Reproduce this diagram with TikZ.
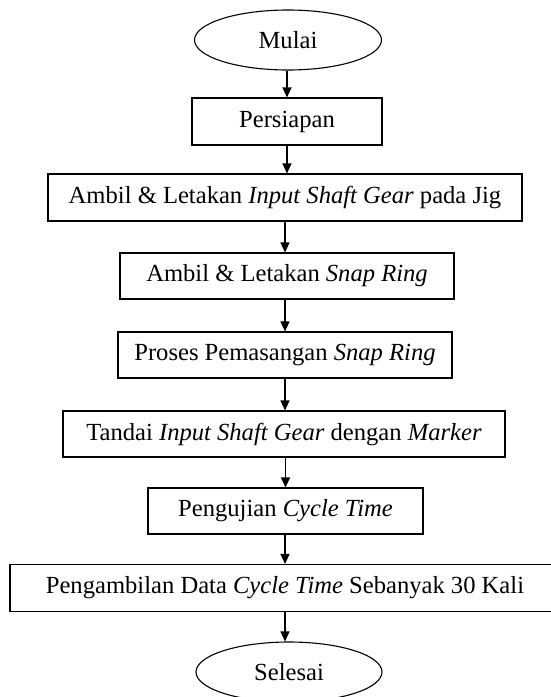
\documentclass[tikz,border=0pt]{standalone}
\usepackage{fontspec}
\setmainfont{Liberation Serif}
\usetikzlibrary{shapes.geometric,arrows.meta}
\begin{document}
\begin{tikzpicture}[x=1pt,y=-1pt,
  every node/.style={font=\fontsize{24.6}{29}\selectfont, inner sep=0pt},
  procbox/.style={draw, line width=1.1pt, rectangle},
  termnode/.style={draw, line width=1.1pt, ellipse},
  flowarrow/.style={line width=1.1pt, -{Triangle[length=10pt,width=9pt]}}]
\useasboundingbox (0,0) rectangle (551,697);
\node[termnode, minimum width=187pt, minimum height=60pt] (start) at (288,40) {Mulai};
\node[procbox, minimum width=190pt, minimum height=47pt] (p1) at (287,121.5) {Persiapan};
\node[procbox, minimum width=474pt, minimum height=47pt] (p2) at (285,197.5) {Ambil \& Letakan \textit{Input Shaft Gear} pada Jig};
\node[procbox, minimum width=334pt, minimum height=46pt] (p3) at (287,276) {Ambil \& Letakan \textit{Snap Ring}};
\node[procbox, minimum width=334pt, minimum height=46pt] (p4) at (285,355) {Proses Pemasangan \textit{Snap Ring}};
\node[procbox, minimum width=442pt, minimum height=46pt] (p5) at (284,434) {Tandai \textit{Input Shaft Gear} dengan \textit{Marker}};
\node[procbox, minimum width=275pt, minimum height=46pt] (p6) at (285.5,511) {Pengujian \textit{Cycle Time}};
\node[procbox, minimum width=550pt, minimum height=47pt] (p7) at (285,588) {Pengambilan Data \textit{Cycle Time} Sebanyak 30 Kali};
\node[termnode, minimum width=186pt, minimum height=60pt] (end) at (289,672) {Selesai};
\draw[flowarrow] (start.south -| p1.north) -- (p1.north);
\draw[flowarrow] (p1.south) -- (p1.south |- p2.north);
\draw[flowarrow] (p2.south) -- (p2.south |- p3.north);
\draw[flowarrow] (p3.south -| p4.north) -- (p4.north);
\draw[flowarrow] (p4.south) -- (p4.south |- p5.north);
\draw[flowarrow] (p5.south -| p6.north) -- (p6.north);
\draw[flowarrow] (p6.south -| p7.north) -- (p7.north);
\draw[flowarrow] (p7.south) -- (p7.south |- end.north);
\end{tikzpicture}
\end{document}
